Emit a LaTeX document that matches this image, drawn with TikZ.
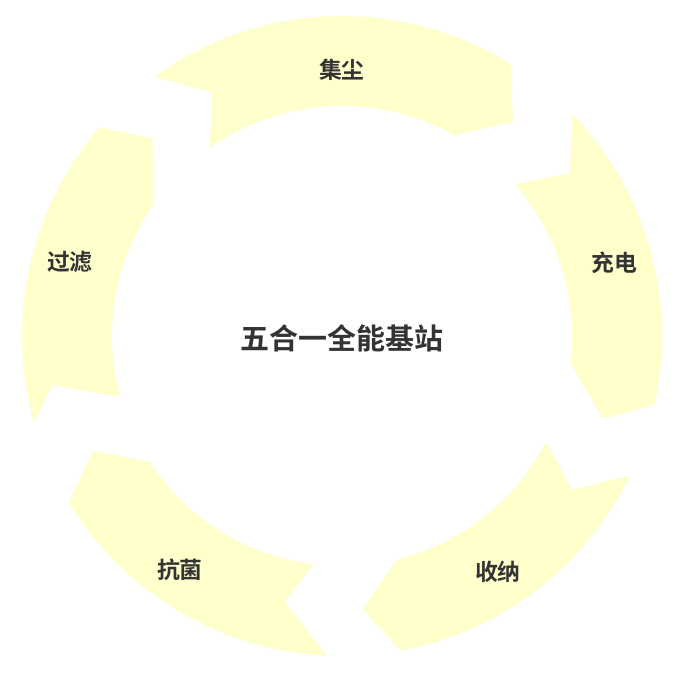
\documentclass[tikz,border=0pt]{standalone}
\usepackage{fontspec}
\newfontfamily\cjk{Noto Sans CJK SC}[BoldFont={* Bold}]
\usetikzlibrary{positioning}
\definecolor{segyellow}{HTML}{FFFFCC}
\definecolor{labelgray}{HTML}{333333}
\tikzset{
	seg/.style={fill=segyellow, draw=none},
	steplabel/.style={text=labelgray, font=\cjk\bfseries\fontsize{13}{15}\selectfont, inner sep=0pt},
	hublabel/.style={text=labelgray, font=\cjk\bfseries\fontsize{16.5}{19}\selectfont, inner sep=0pt}
}

\begin{document}
\begin{tikzpicture}[x=0.02cm, y=0.02cm]
		\useasboundingbox (-342,-344) rectangle (338,336);
		% five curved arrows, clockwise
		\foreach \os/\nt/\nr/\is/\oe/\tp/\ie in {125.9/118.0/276/125.1/58.1/51.4/60.8,
			44.1/35.5/280/41.2/-12.4/-17.6/-6.7,
			-25.8/-33.8/277/-27.4/-79.5/-85.7/-76.1,
			-92.7/-102.1/272/-97.2/-148.6/-155.3/-146.7,
			-164.2/-170.4/294/-164.6/-220.7/-226.2/-215.1}
		{
			\fill[seg] (\os:320) arc[start angle=\os, end angle=\oe, radius=320]
				-- (\tp:274) -- (\ie:230) arc[start angle=\ie, end angle=\is, radius=230]
				-- (\nt:\nr) -- cycle;
		}
		
		\node[hublabel] (hub) at (0,-2) {五合一全能基站};
		\node[steplabel] (dust) at (0,266) {集尘};
		\node[steplabel] (charge) at (272,73) {充电};
		\node[steplabel] (store) at (156,-236) {收纳};
		\node[steplabel] (germ) at (-162,-234) {抗菌};
		\node[steplabel] (filter) at (-272,74) {过滤};
	\end{tikzpicture}
\end{document}
